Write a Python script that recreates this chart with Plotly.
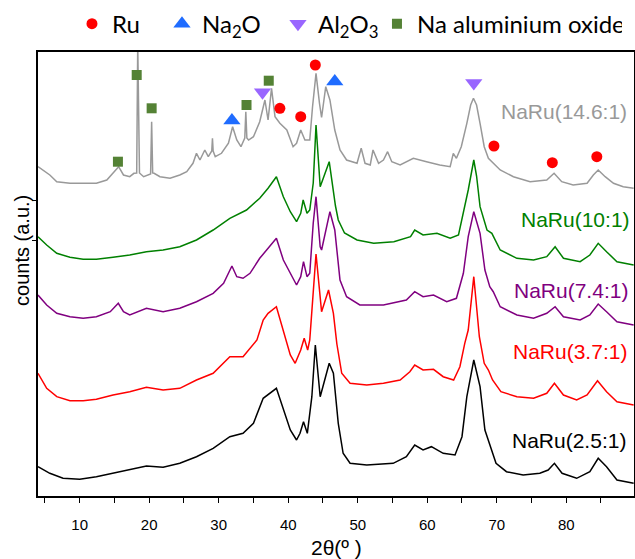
import plotly.graph_objects as go

# ---- data (2theta in degrees, counts in arbitrary stacked units) ----
gray_x = [4.0, 5.7, 6.7, 8.6, 10.5, 12.4, 13.9, 14.8, 15.6, 16.3, 17.2, 17.8, 18.2, 18.35, 18.5, 18.6, 19.2, 19.9,
          20.2, 20.35, 20.5, 20.7, 21.55, 23.0, 24.4, 25.4, 26.3, 26.8, 27.3, 28.0, 28.5, 29.0, 29.1, 29.2, 29.5,
          30.4, 31.4, 32.0, 32.6, 33.2, 33.55, 33.75, 33.9, 34.05, 34.3, 35.0, 35.9, 36.65, 37.1, 37.6, 38.1, 38.8,
          39.8, 40.7, 41.2, 41.8, 42.4, 43.1, 43.5, 44.0, 44.5, 44.8, 45.4, 46.0, 46.7, 47.45, 48.4, 49.9, 50.5,
          51.05, 51.8, 52.2, 53.0, 53.7, 54.3, 54.9, 56.1, 58.0, 59.9, 61.8, 63.3, 63.75, 64.2, 64.9, 65.7, 66.25,
          66.65, 67.1, 67.6, 68.2, 68.8, 69.5, 70.5, 72.4, 74.8, 77.2, 78.25, 79.35, 81.0, 83.0, 83.9, 84.6, 85.6,
          86.8, 88.2, 89.7]
gray_y = [329.3, 321, 314.3, 312.7, 312.7, 312.7, 316, 322.7, 329.3, 321, 319.3, 322.7, 323, 452, 324, 323, 319.3, 321,
          322, 374.3, 323, 322.7, 319.3, 317.7, 321, 324.3, 332.7, 342.7, 336, 346, 339.3, 345, 357.7, 345, 339.3,
          342.7, 352.7, 369.3, 356, 349.3, 356, 358, 384.3, 358, 356, 359.3, 374.3, 396, 376, 407.7, 379.3, 372.7,
          366, 349.3, 352.7, 366, 356, 356, 389.3, 422.7, 392.7, 378.5, 409.3, 396, 366, 346, 336, 332.7, 347.7,
          332.7, 331, 346, 332.7, 336, 344.3, 334.3, 331, 337.7, 334.3, 331, 329.3, 342.7, 337.7, 349.3, 372.7, 391,
          397.7, 391, 372.7, 349.3, 337.7, 332.7, 326, 319.3, 314.3, 316, 322.7, 314.3, 311, 312.7, 321, 326, 319.3,
          312.7, 309.3, 307.7]

green_x = [4.0, 5.25, 6.7, 8.6, 10.5, 12.4, 14.8, 17.2, 19.6, 22.0, 24.4, 26.8, 29.2, 31.6, 34.0, 35.9, 37.1, 38.3,
           39.3, 40.3, 41.2, 41.8, 42.15, 42.7, 43.1, 43.6, 44.0, 44.6, 45.9, 46.4, 46.8, 47.2, 48.1, 49.9, 52.3,
           55.2, 57.6, 58.2, 59.4, 61.4, 63.3, 64.5, 65.2, 65.9, 66.7, 67.1, 67.6, 68.6, 69.3, 70.5, 72.9, 75.3,
           77.2, 78.4, 79.6, 82.0, 83.4, 84.6, 85.8, 87.3, 89.7]
green_y = [259.3, 251, 242.7, 238.7, 236.7, 236.7, 238.7, 241, 244.3, 246, 249.3, 256, 266, 277.7, 286, 297.7, 307.7,
           319.3, 299.3, 284.3, 274.3, 282.7, 296, 282.7, 286, 313, 371, 309.3, 334.3, 310, 290, 276, 263, 256,
           252.7, 254.3, 259.3, 266, 261, 262.7, 257.7, 261, 282.7, 306, 336, 320, 289.3, 266, 262.7, 246, 237.7,
           236, 239.3, 249.3, 237.7, 234.3, 241, 252.7, 244.3, 234.3, 231]

purple_x = [4.0, 5.25, 6.7, 8.6, 10.5, 12.4, 14.4, 15.55, 16.3, 17.2, 19.6, 22.0, 24.4, 26.8, 29.2, 30.7, 31.9, 32.6,
            33.5, 34.5, 35.9, 37.1, 38.3, 39.3, 40.3, 41.2, 41.8, 42.2, 42.7, 43.1, 43.6, 44.0, 44.6, 44.8, 46.0,
            46.7, 47.45, 48.4, 50.3, 53.7, 57.0, 58.2, 59.4, 60.9, 62.8, 64.2, 65.2, 65.9, 66.7, 67.6, 68.3, 69.0,
            69.5, 70.5, 72.9, 75.3, 77.2, 78.4, 79.6, 82.0, 83.4, 84.6, 85.8, 87.3, 89.7]
purple_y = [201, 191, 182.7, 179.3, 177.7, 179.3, 184.3, 192.7, 184.3, 181, 187.7, 184.3, 187.7, 194.3, 202.7, 212.7,
            230, 219.3, 217.7, 222.7, 237.7, 247.7, 257.7, 236, 222.7, 211, 219.3, 234.3, 219.3, 222.7, 273, 299.3,
            249.3, 246, 284.3, 266, 216, 199.3, 191, 191, 196, 204.3, 199.3, 201, 194.3, 197.7, 222.7, 259.3, 284.3,
            262.7, 226, 209.3, 204.3, 189.3, 181, 177.7, 182.7, 189.3, 179.3, 176, 181, 192, 184.3, 174.3, 171]

red_x = [4.0, 5.25, 6.7, 8.6, 10.5, 12.4, 14.8, 17.2, 19.6, 22.0, 24.4, 26.8, 29.2, 31.6, 33.5, 35.5, 36.4, 37.1,
         38.3, 39.3, 40.3, 41.0, 41.8, 42.3, 42.8, 43.1, 43.6, 44.0, 44.8, 45.8, 46.5, 47.0, 47.7, 48.9, 51.3, 53.7,
         56.1, 57.5, 58.2, 59.4, 60.9, 62.3, 63.8, 64.7, 65.4, 65.9, 66.7, 67.5, 68.2, 68.8, 69.4, 70.6, 72.9, 75.3,
         77.2, 78.3, 79.6, 81.5, 83.0, 84.5, 85.8, 87.3, 89.7]
red_y = [122.7, 107.7, 99.3, 95.3, 95.3, 96.7, 101, 104.3, 108.7, 106, 107.7, 116, 122.7, 139.3, 139.3, 156, 176,
         182.7, 189.3, 166, 141, 132.7, 146, 157.7, 146, 156, 206, 242, 184.3, 206, 182.7, 152, 122.7, 112.7, 111,
         112.7, 116, 124.3, 131, 126, 126.7, 119.3, 116, 129.3, 152.7, 166, 219.3, 159.3, 132.7, 126, 116, 104.3,
         99.3, 97.7, 102.7, 112.7, 101, 96, 101, 115.3, 104.3, 94.3, 91]

black_x = [4.0, 5.7, 7.6, 10.0, 12.4, 14.8, 17.2, 19.6, 22.0, 24.4, 26.8, 29.2, 31.6, 33.5, 35.0, 36.4, 38.3, 39.3,
           40.3, 41.2, 41.7, 42.2, 42.75, 43.4, 43.9, 44.6, 45.9, 46.5, 47.2, 47.9, 48.9, 51.3, 55.1, 57.0, 58.2,
           59.4, 60.6, 62.3, 64.0, 65.0, 65.7, 66.7, 67.6, 68.3, 69.1, 69.9, 71.4, 73.8, 76.2, 77.4, 78.3, 79.4,
           81.5, 83.4, 84.6, 85.8, 87.3, 89.7]
black_y = [29.3, 22.7, 17.7, 16.7, 19.3, 22.7, 26, 30, 28.7, 32.7, 39.3, 47.7, 59.3, 62.7, 72.7, 97.7, 107.7, 86,
           66, 56, 62.7, 74.3, 62.7, 99.3, 151, 99.3, 132.7, 122.7, 72.7, 42.7, 32.7, 31, 32.7, 39.3, 51, 46, 49.3,
           42.7, 41, 59.3, 99.3, 136, 109.3, 66, 49.3, 32.7, 24.3, 21, 22.7, 26, 32.7, 22.7, 17.7, 24.3, 37.7,
           29.3, 16, 12.7]

# phase markers
ru_x = [38.8, 41.8, 43.9, 69.6, 78.0, 84.4]
ru_y = [387.7, 379.3, 431, 350, 333.3, 339.3]
na2o_x = [31.9, 46.7]
na2o_y = [375.5, 414.5]
al2o3_x = [36.3, 66.7]
al2o3_y = [403.7, 413]
naal_x = [15.5, 18.2, 20.35, 34.0, 37.2]
naal_y = [334.3, 421, 387.7, 391, 415.3]

sample_names = ["NaRu(14.6:1)", "NaRu(10:1)", "NaRu(7.4:1)", "NaRu(3.7:1)", "NaRu(2.5:1)"]
sample_label_x = [70.37, 73.2, 72.2, 72.0, 71.9]
sample_label_y = [385, 276.7, 206, 144.3, 56]
sample_colors = ["#999999", "#008000", "#800080", "#ff0000", "#000000"]

fig = go.Figure()
curves = [(gray_x, gray_y), (green_x, green_y), (purple_x, purple_y), (red_x, red_y), (black_x, black_y)]
for (cx, cy), name, col in zip(curves, sample_names, sample_colors):
    fig.add_trace(go.Scatter(x=cx, y=cy, mode="lines", name=name, showlegend=False,
                             line=dict(color=col, width=1.5)))

fig.add_trace(go.Scatter(x=ru_x, y=ru_y, mode="markers", name="Ru", legendwidth=45,
                         marker=dict(symbol="circle", size=11, color="#ff0000")))
fig.add_trace(go.Scatter(x=na2o_x, y=na2o_y, mode="markers", name="Na<sub>2</sub>O", legendwidth=71,
                         marker=dict(symbol="triangle-up", size=15, color="#1f6cff")))
fig.add_trace(go.Scatter(x=al2o3_x, y=al2o3_y, mode="markers", name="Al<sub>2</sub>O<sub>3</sub>", legendwidth=54,
                         marker=dict(symbol="triangle-down", size=15, color="#9966ff")))
fig.add_trace(go.Scatter(x=naal_x, y=naal_y, mode="markers", name="Na aluminium oxide", legendwidth=200,
                         marker=dict(symbol="square", size=10, color="#548235")))

for name, lx, ly, col in zip(sample_names, sample_label_x, sample_label_y, sample_colors):
    fig.add_annotation(x=lx, y=ly, xref="x", yref="y", text=name, showarrow=False,
                       xanchor="left", yanchor="middle",
                       font=dict(family="Liberation Sans", size=21, color=col))

# axis titles
fig.add_annotation(x=-0.027, y=0.554, xref="paper", yref="paper", text="counts (a.u.)", textangle=-90,
                   showarrow=False, xanchor="center", yanchor="middle",
                   font=dict(family="Liberation Sans", size=20, color="black"))
fig.add_annotation(x=0.5, y=-0.117, xref="paper", yref="paper", text="2θ(º )",
                   showarrow=False, xanchor="center", yanchor="middle",
                   font=dict(family="Liberation Sans", size=21, color="black"))

fig.update_layout(
    width=635, height=559,
    margin=dict(l=38, r=1, t=52, b=63, autoexpand=False),
    paper_bgcolor="white", plot_bgcolor="white",
    showlegend=True,
    legend=dict(orientation="h", x=0.057, y=1.063, xanchor="left", yanchor="middle",
                font=dict(family="Lato", size=24, color="black"), bgcolor="rgba(0,0,0,0)",
                itemsizing="trace"),
    xaxis=dict(range=[4.0, 89.75], tickvals=[10, 20, 30, 40, 50, 60, 70, 80],
               ticks="outside", ticklen=5, tickcolor="black", tickwidth=1, ticklabelstandoff=9,
               minor=dict(ticks="outside", ticklen=5, dtick=5, tick0=5, tickcolor="black"),
               showgrid=False, zeroline=False, showline=True, mirror=True, linecolor="black", linewidth=1.5,
               automargin=False,
               tickfont=dict(family="Liberation Sans", size=15, color="black")),
    yaxis=dict(range=[0, 444], tickvals=[256, 296], ticks="outside", ticklen=4, tickcolor="black",
               showticklabels=False, showgrid=False, zeroline=False, showline=True, mirror=True,
               linecolor="black", linewidth=1.5, automargin=False),
)

fig.write_html("out.html", config={"displayModeBar": False},
               post_script="document.body.style.margin='0px';")
